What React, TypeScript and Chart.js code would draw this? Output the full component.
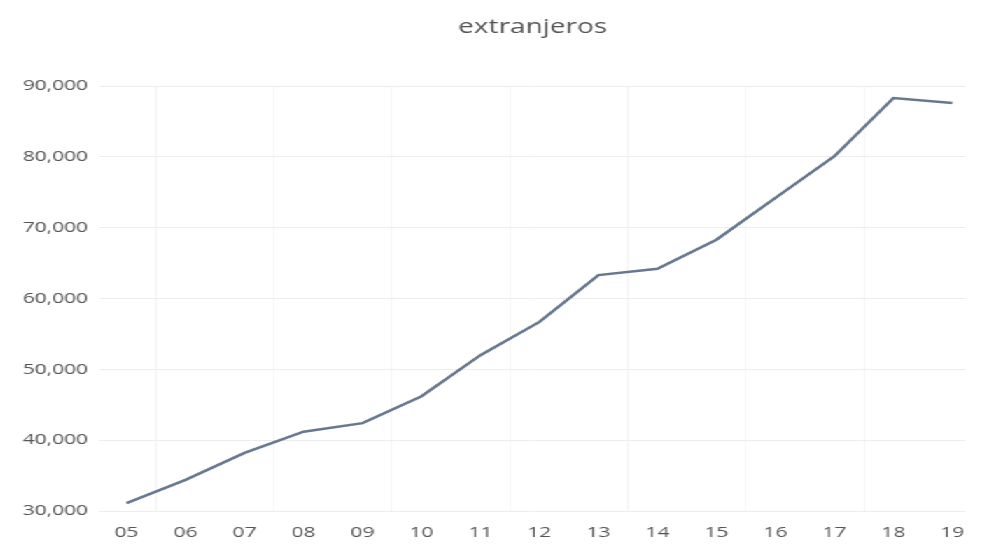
import React, { useEffect, useRef } from "react";
import { Chart, registerables } from "chart.js";

Chart.register(...registerables);

const categories = ["05", "06", "07", "08", "09", "10", "11", "12", "13", "14", "15", "16", "17", "18", "19"];
const extranjeros = [31100, 34400, 38200, 41200, 42400, 46200, 52000, 56700, 63300, 64200, 68300, 74200, 80100, 88300, 87600];
const yTicks = [30000, 40000, 50000, 60000, 70000, 80000, 90000];
const gridPositions = [0.5, 2.5, 4.5, 6.5, 8.5, 10.5, 12.5];
const titleText = "extranjeros";

const STRETCH = 1.4;
const W = 983 / STRETCH;
const H = 546;
const FONT = "'Open Sans', 'Liberation Sans', sans-serif";
const TEXT = "#555555";

export default function App() {
  const ref = useRef<HTMLCanvasElement | null>(null);
  useEffect(() => {
    if (!ref.current) return;
    const chart = new Chart(ref.current, {
      type: "line",
      data: {
        datasets: [
          {
            label: titleText,
            data: extranjeros.map((v, i) => ({ x: i, y: v })),
            borderColor: "#66778e",
            backgroundColor: "#66778e",
            borderWidth: 2.5,
            pointRadius: 0,
            tension: 0,
            fill: false,
          },
        ],
      },
      options: {
        animation: false,
        responsive: true,
        maintainAspectRatio: false,
        layout: { padding: { left: 0, right: 3.4, top: 0, bottom: 0 } },
        plugins: {
          legend: { display: false },
          tooltip: { enabled: false },
          title: {
            display: true,
            fullSize: false,
            text: titleText,
            color: TEXT,
            font: { family: FONT, size: 20, weight: "normal" },
            padding: { top: 15, bottom: 47 },
          },
        },
        scales: {
          x: {
            type: "linear",
            min: -0.45,
            max: 14.22,
            afterBuildTicks: (scale: any) => {
              scale.ticks = categories.map((_, i) => ({ value: i }));
            },
            afterFit: (scale: any) => {
              scale.height = 35;
            },
            grid: { display: false, drawTicks: false },
            border: { display: false },
            ticks: {
              color: TEXT,
              font: { family: FONT, size: 15 },
              padding: 13,
              maxRotation: 0,
              autoSkip: false,
              callback: (v: any) => categories[Number(v)] ?? "",
            },
          },
          x2: {
            type: "linear",
            position: "bottom",
            min: -0.45,
            max: 14.22,
            afterBuildTicks: (scale: any) => {
              scale.ticks = gridPositions.map((v) => ({ value: v }));
            },
            afterFit: (scale: any) => {
              scale.height = 0;
            },
            grid: { color: "#f5f5f5", lineWidth: 1, drawTicks: false },
            border: { display: false },
            ticks: { display: false },
          },
          y: {
            min: 30000,
            max: 90000,
            afterBuildTicks: (scale: any) => {
              scale.ticks = yTicks.map((v) => ({ value: v }));
            },
            afterFit: (scale: any) => {
              scale.width = 71.4;
            },
            grid: { color: "#ededed", lineWidth: 1, drawTicks: false },
            border: { display: false },
            ticks: {
              color: TEXT,
              font: { family: FONT, size: 15 },
              padding: 8.5,
              callback: (v: any) => Number(v).toLocaleString("en-US"),
            },
          },
        },
      },
    } as any);
    return () => chart.destroy();
  }, []);
  return (
    <div
      style={{
        position: "absolute",
        left: 0,
        top: 0,
        width: W,
        height: H,
        transform: `scaleX(${STRETCH})`,
        transformOrigin: "0 0",
        background: "#ffffff",
      }}
    >
      <canvas ref={ref} />
    </div>
  );
}
